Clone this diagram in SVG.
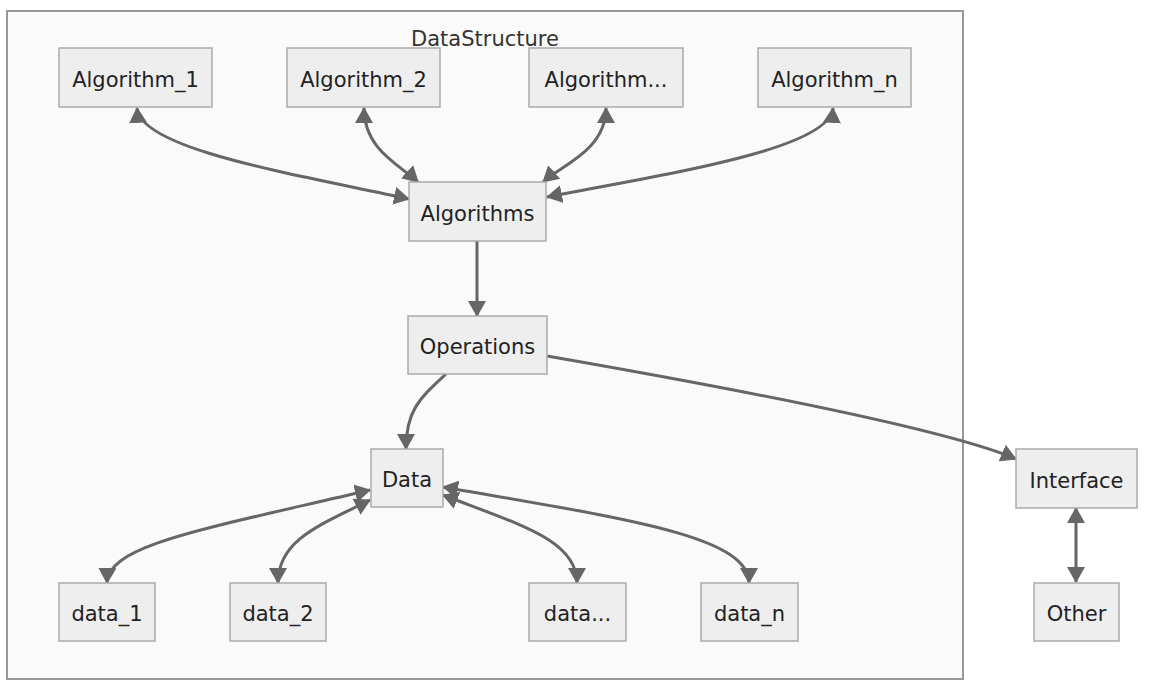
<svg xmlns="http://www.w3.org/2000/svg" width="1155" height="686" viewBox="0 0 1155 686">
<style>
.cluster{fill:#fafafa;stroke:#999;stroke-width:2}
.node rect{fill:#eeeeee;stroke:#aaaaaa;stroke-width:1.5}
text{font-family:"DejaVu Sans","Liberation Sans",sans-serif;font-size:21px;fill:#222;text-anchor:middle}
.title{fill:#333}
.edge{fill:none;stroke:#666;stroke-width:3}
</style>
<defs>
<marker id="arr" viewBox="0 0 16 18" refX="15" refY="9" markerUnits="userSpaceOnUse" markerWidth="16" markerHeight="18" orient="auto-start-reverse">
<path d="M0,0 L16,9 L0,18 z" fill="#666"/>
</marker>
</defs>
<rect width="1155" height="686" fill="#ffffff"/>
<g id="DataStructure">
<rect class="cluster" x="7" y="11" width="956" height="668"/>
<text class="title" x="485" y="46">DataStructure</text>
</g>
<g id="connectors">
<path class="edge" d="M137,108 C140,150 300,175 409,199" marker-start="url(#arr)" marker-end="url(#arr)"/>
<path class="edge" d="M364,108 C364,150 400,165 418,182" marker-start="url(#arr)" marker-end="url(#arr)"/>
<path class="edge" d="M606,108 C606,150 562,165 543,182" marker-start="url(#arr)" marker-end="url(#arr)"/>
<path class="edge" d="M833,108 C830,150 660,175 547,197" marker-start="url(#arr)" marker-end="url(#arr)"/>
<path class="edge" d="M477,241 L477,316" marker-end="url(#arr)"/>
<path class="edge" d="M446,374 C420,398 406,410 406,449" marker-end="url(#arr)"/>
<path class="edge" d="M547,356 C800,400 960,435 1016,459" marker-end="url(#arr)"/>
<path class="edge" d="M370,490 C200,530 108,545 107,583" marker-start="url(#arr)" marker-end="url(#arr)"/>
<path class="edge" d="M370,500 C320,525 278,540 278,583" marker-start="url(#arr)" marker-end="url(#arr)"/>
<path class="edge" d="M443,495 C520,525 577,540 577,583" marker-start="url(#arr)" marker-end="url(#arr)"/>
<path class="edge" d="M443,487 C620,518 749,535 749,583" marker-start="url(#arr)" marker-end="url(#arr)"/>
<path class="edge" d="M1076,508 L1076,582" marker-start="url(#arr)" marker-end="url(#arr)"/>
</g>
<g id="Algorithm_1" class="node"><rect x="59" y="48" width="153" height="59"/><text x="135.5" y="86.5">Algorithm_1</text></g>
<g id="Algorithm_2" class="node"><rect x="287" y="48" width="153" height="59"/><text x="363.5" y="86.5">Algorithm_2</text></g>
<g id="Algorithm_etc" class="node"><rect x="529" y="48" width="154" height="59"/><text x="606" y="86.5">Algorithm...</text></g>
<g id="Algorithm_n" class="node"><rect x="758" y="48" width="153" height="59"/><text x="834.5" y="86.5">Algorithm_n</text></g>
<g id="Algorithms" class="node"><rect x="409" y="182" width="137" height="59"/><text x="477.5" y="220.5">Algorithms</text></g>
<g id="Operations" class="node"><rect x="408" y="316" width="139" height="58"/><text x="477.5" y="354">Operations</text></g>
<g id="Data" class="node"><rect x="371" y="449" width="72" height="58"/><text x="407" y="487">Data</text></g>
<g id="data_1" class="node"><rect x="59" y="583" width="96" height="58"/><text x="107" y="621">data_1</text></g>
<g id="data_2" class="node"><rect x="230" y="583" width="96" height="58"/><text x="278" y="621">data_2</text></g>
<g id="data_etc" class="node"><rect x="529" y="583" width="97" height="58"/><text x="577.5" y="621">data...</text></g>
<g id="data_n" class="node"><rect x="701" y="583" width="97" height="58"/><text x="749.5" y="621">data_n</text></g>
<g id="Interface" class="node"><rect x="1016" y="449" width="121" height="59"/><text x="1076.5" y="487.5">Interface</text></g>
<g id="Other" class="node"><rect x="1034" y="583" width="85" height="58"/><text x="1076.5" y="621">Other</text></g>
</svg>
